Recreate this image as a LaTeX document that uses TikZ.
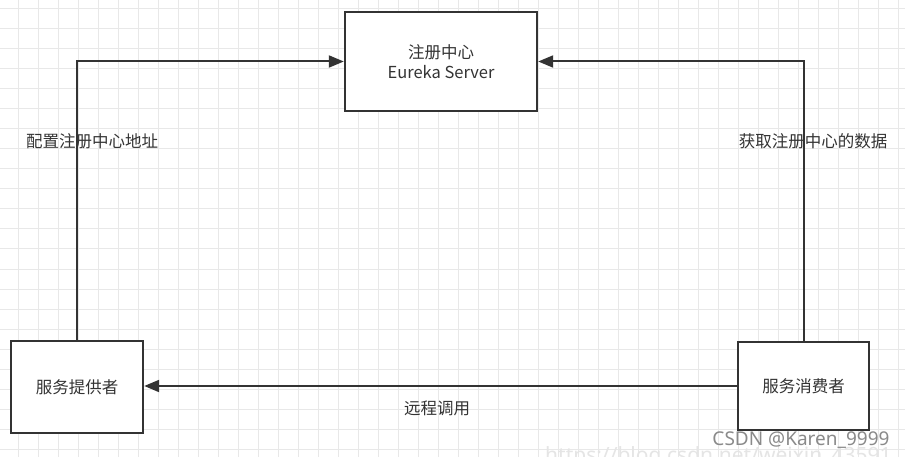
\documentclass[tikz,border=0pt]{standalone}
\usepackage{fontspec}
\setmainfont{Noto Sans CJK SC}
\newfontfamily\wmfont{Noto Sans}
\usetikzlibrary{arrows.meta}
\definecolor{ink}{HTML}{333333}
\definecolor{gridc}{HTML}{E8E8E8}
\definecolor{wm}{HTML}{8A8A8A}
\tikzset{
  gridline/.style={draw=gridc, line width=1pt},
  box/.style={draw=ink, line width=2.4pt, fill=white, text=ink, align=center,
    font=\fontsize{16.5}{20}\selectfont, inner sep=0pt},
  conn/.style={draw=ink, line width=2pt, -{Triangle[length=15pt,width=12pt]}},
  lbl/.style={text=ink, font=\fontsize{16.5}{20}\selectfont, inner sep=0pt},
}
\begin{document}
\begin{tikzpicture}[x=1pt,y=-1pt]
\useasboundingbox (0,0) rectangle (905,457);
\clip (0,0) rectangle (905,457);
\fill[white] (0,0) rectangle (905,457);
\foreach \gx in {18,38,...,898} \draw[gridline] (\gx,0) -- (\gx,457);
\foreach \gy in {9,29,...,449} \draw[gridline] (0,\gy) -- (905,\gy);

\node[box, minimum width=192pt, minimum height=99pt] (reg) at (441,61.5) {注册中心\\Eureka Server};
\node[box, minimum width=132pt, minimum height=92pt] (prov) at (77,387) {服务提供者};
\node[box, minimum width=131pt, minimum height=88pt] (cons) at (803.5,386) {服务消费者};

\draw[conn] (prov.north) |- (reg.west);
\draw[conn] (cons.north) |- (reg.east);
\draw[conn] (cons.west) -- (cons.west -| prov.east);

\node[lbl] (l1) at (92,141) {配置注册中心地址};
\node[lbl] (l2) at (813,141) {获取注册中心的数据};
\node[lbl] (l3) at (437,408) {远程调用};

\node[text=wm!22, font=\wmfont\fontsize{21}{23}\selectfont, anchor=base west, inner sep=0pt] (url) at (545,462) {https://blog.csdn.net/weixin\_43591};
\node[text=wm, font=\wmfont\fontsize{19}{21}\selectfont, anchor=base, inner sep=0pt] (wmk) at (801,445) {CSDN @Karen\_9999};
\end{tikzpicture}
\end{document}
